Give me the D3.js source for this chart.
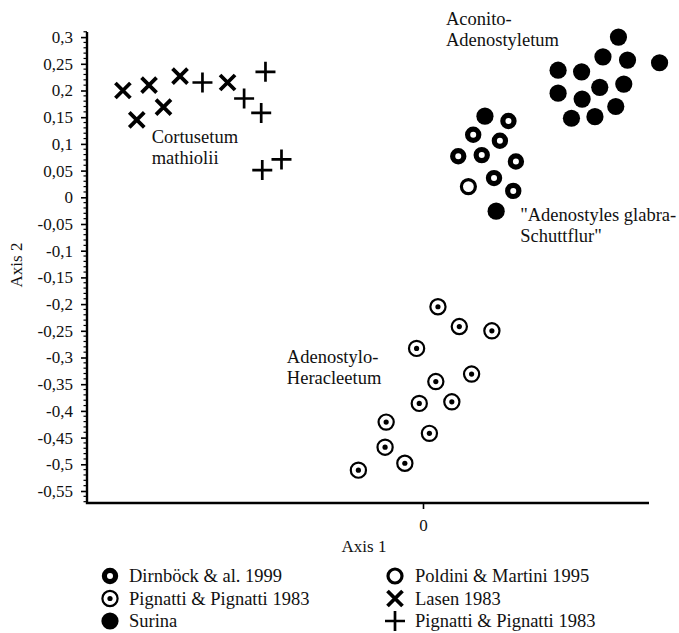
<!DOCTYPE html>
<html>
<head>
<meta charset="utf-8">
<script src="https://cdn.jsdelivr.net/npm/d3@7"></script>
<style>
  html, body { margin: 0; padding: 0; background: #fff; }
  svg text { font-family: "Liberation Serif", "Times New Roman", serif; fill: #111; }
</style>
</head>
<body>
<svg id="chart" width="679" height="633"></svg>
<script>
'use strict';

// ordination scores, [axis1, axis2]
let dirnbock = [[0.160, 0.143], [0.094, 0.117], [0.144, 0.106], [0.066, 0.077],
    [0.110, 0.079], [0.174, 0.067], [0.133, 0.036], [0.169, 0.012]]
let poldini = [[0.085, 0.020]]
let pignattiCircles = [[0.028, -0.205], [0.068, -0.242], [0.129, -0.250], [-0.012, -0.283],
    [0.091, -0.331], [0.024, -0.345], [0.054, -0.383], [-0.007, -0.386], [-0.069, -0.421],
    [0.012, -0.442], [-0.071, -0.468], [-0.034, -0.498], [-0.121, -0.511]]
let surina = [[0.366, 0.300], [0.337, 0.263], [0.383, 0.257], [0.443, 0.252], [0.253, 0.238],
    [0.297, 0.235], [0.253, 0.195], [0.331, 0.206], [0.376, 0.212], [0.298, 0.184],
    [0.361, 0.170], [0.278, 0.148], [0.322, 0.151], [0.116, 0.152], [0.137, -0.026]]
let lasen = [[-0.562, 0.200], [-0.536, 0.145], [-0.513, 0.210], [-0.486, 0.169],
    [-0.455, 0.227], [-0.366, 0.215]]
let pignattiPlus = [[-0.413, 0.215], [-0.335, 0.185], [-0.295, 0.235], [-0.303, 0.158],
    [-0.301, 0.051], [-0.265, 0.071]]

let yTickValues = [0.3, 0.25, 0.2, 0.15, 0.1, 0.05, 0, -0.05, -0.1, -0.15, -0.2, -0.25,
    -0.3, -0.35, -0.4, -0.45, -0.5, -0.55]
let xTickValues = [0]

let groupLabels = [
    {lines: ['Cortusetum', 'mathiolii'], x: -0.508, y: 0.102},
    {lines: ['Aconito-', 'Adenostyletum'], x: 0.043, y: 0.323},
    {lines: ['"Adenostyles glabra-', 'Schuttflur"'], x: 0.182, y: -0.045},
    {lines: ['Adenostylo-', 'Heracleetum'], x: -0.255, y: -0.310}
]

let legendLeft = [
    {symbol: 'ring', label: 'Dirnböck & al. 1999'},
    {symbol: 'dot', label: 'Pignatti & Pignatti 1983'},
    {symbol: 'filled', label: 'Surina'}
]
let legendRight = [
    {symbol: 'open', label: 'Poldini & Martini 1995'},
    {symbol: 'cross', label: 'Lasen 1983'},
    {symbol: 'plus', label: 'Pignatti & Pignatti 1983'}
]

let svg = d3.select('#chart')

let x = d3.scaleLinear().domain([-0.6, 0.4]).range([102.6, 636.6])
let y = d3.scaleLinear().domain([-0.55, 0.3]).range([491, 37.1])

let axisLeftX = 87
let axisBottomY = 503

function drawMarker(g, symbol, cx, cy) {
    if (symbol === 'ring') {
        g.append('circle').attr('cx', cx).attr('cy', cy).attr('r', 5.6)
            .attr('fill', 'none').attr('stroke', '#000').attr('stroke-width', 5.2)
    } else if (symbol === 'open') {
        g.append('circle').attr('cx', cx).attr('cy', cy).attr('r', 7)
            .attr('fill', 'none').attr('stroke', '#000').attr('stroke-width', 3.2)
    } else if (symbol === 'dot') {
        g.append('circle').attr('cx', cx).attr('cy', cy).attr('r', 7.6)
            .attr('fill', 'none').attr('stroke', '#000').attr('stroke-width', 2.2)
        g.append('circle').attr('cx', cx).attr('cy', cy).attr('r', 2.6).attr('fill', '#000')
    } else if (symbol === 'filled') {
        g.append('circle').attr('cx', cx).attr('cy', cy).attr('r', 8.6).attr('fill', '#000')
    } else if (symbol === 'cross') {
        let s = 7.5
        g.append('path')
            .attr('d', 'M' + (cx - s) + ',' + (cy - s) + 'L' + (cx + s) + ',' + (cy + s) +
                'M' + (cx - s) + ',' + (cy + s) + 'L' + (cx + s) + ',' + (cy - s))
            .attr('stroke', '#000').attr('stroke-width', 3.8).attr('fill', 'none')
    } else if (symbol === 'plus') {
        let s = 10
        g.append('path')
            .attr('d', 'M' + (cx - s) + ',' + cy + 'L' + (cx + s) + ',' + cy +
                'M' + cx + ',' + (cy - s) + 'L' + cx + ',' + (cy + s))
            .attr('stroke', '#000').attr('stroke-width', 2.7).attr('fill', 'none')
    }
}

// axes
let axisG = svg.append('g')

let yAxis = d3.axisLeft(y)
    .tickValues(yTickValues)
    .tickSize(6)
    .tickPadding(8)
    .tickFormat(function(d) { return d3.format('~g')(d).replace('.', ',').replace('−', '-') })

let yAxisG = axisG.append('g')
    .attr('transform', 'translate(' + axisLeftX + ',0)')
    .call(yAxis)
yAxisG.select('.domain').remove()
yAxisG.selectAll('line').attr('stroke', '#000').attr('stroke-width', 1.6)
yAxisG.selectAll('text')
    .style('font-family', '"Liberation Serif", "Times New Roman", serif')
    .style('font-size', '17px')
    .attr('fill', '#111')

// minor ticks every 0.01
let minorValues = d3.range(-57, 32)
    .filter(function(v) { return v % 5 !== 0 })
    .map(function(v) { return v / 100 })
axisG.append('g').selectAll('line')
    .data(minorValues)
    .enter().append('line')
    .attr('x1', axisLeftX - 3.5)
    .attr('x2', axisLeftX)
    .attr('y1', function(d) { return y(d) })
    .attr('y2', function(d) { return y(d) })
    .attr('stroke', '#000')
    .attr('stroke-width', 1.2)

let xAxis = d3.axisBottom(x)
    .tickValues(xTickValues)
    .tickSize(6)
    .tickPadding(10)
    .tickFormat(d3.format('d'))

let xAxisG = axisG.append('g')
    .attr('transform', 'translate(0,' + axisBottomY + ')')
    .call(xAxis)
xAxisG.select('.domain').remove()
xAxisG.selectAll('line').attr('stroke', '#000').attr('stroke-width', 1.6)
xAxisG.selectAll('text')
    .style('font-family', '"Liberation Serif", "Times New Roman", serif')
    .style('font-size', '17px')
    .attr('fill', '#111')

axisG.append('path')
    .attr('d', 'M' + axisLeftX + ',32V' + axisBottomY + 'H649')
    .attr('fill', 'none')
    .attr('stroke', '#000')
    .attr('stroke-width', 2.4)

// axis titles
svg.append('text')
    .attr('x', 364)
    .attr('y', 552)
    .attr('text-anchor', 'middle')
    .style('font-size', '17px')
    .text('Axis 1')

svg.append('text')
    .attr('transform', 'translate(22,265) rotate(-90)')
    .attr('text-anchor', 'middle')
    .style('font-size', '17px')
    .text('Axis 2')

// points
let pointsG = svg.append('g')
let series = [
    {data: lasen, symbol: 'cross'},
    {data: pignattiPlus, symbol: 'plus'},
    {data: surina, symbol: 'filled'},
    {data: dirnbock, symbol: 'ring'},
    {data: poldini, symbol: 'open'},
    {data: pignattiCircles, symbol: 'dot'}
]
series.forEach(function(s) {
    s.data.forEach(function(d) {
        drawMarker(pointsG, s.symbol, x(d[0]), y(d[1]))
    })
})

// group labels
let labelG = svg.append('g')
groupLabels.forEach(function(lbl) {
    let t = labelG.append('text')
        .attr('x', x(lbl.x))
        .attr('y', y(lbl.y))
        .style('font-size', '18.5px')
    lbl.lines.forEach(function(line, i) {
        t.append('tspan')
            .attr('x', x(lbl.x))
            .attr('dy', i === 0 ? 0 : 21)
            .text(line)
    })
})

// legend
let legendG = svg.append('g')
function drawLegendColumn(entries, markerX, textX) {
    entries.forEach(function(e, i) {
        let cy = 576 + i * 22.5
        drawMarker(legendG, e.symbol, markerX, cy)
        legendG.append('text')
            .attr('x', textX)
            .attr('y', cy + 6)
            .style('font-size', '18.5px')
            .text(e.label)
    })
}
drawLegendColumn(legendLeft, 110, 129)
drawLegendColumn(legendRight, 395, 415)
</script>
</body>
</html>
